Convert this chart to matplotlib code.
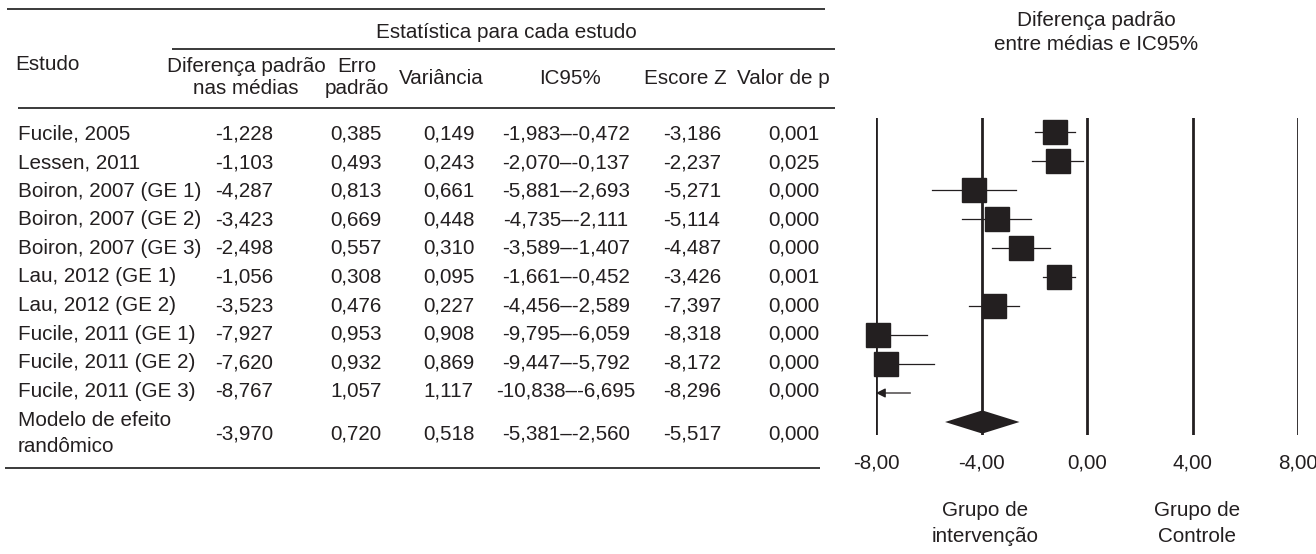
import matplotlib
matplotlib.use("Agg")
import matplotlib.pyplot as plt

plt.rcParams["font.family"] = ["Liberation Sans", "DejaVu Sans"]

INK = "#231f20"
FS = 14.9

# ---- data ----
STUDIES = [
    "Fucile, 2005", "Lessen, 2011", "Boiron, 2007 (GE 1)", "Boiron, 2007 (GE 2)",
    "Boiron, 2007 (GE 3)", "Lau, 2012 (GE 1)", "Lau, 2012 (GE 2)",
    "Fucile, 2011 (GE 1)", "Fucile, 2011 (GE 2)", "Fucile, 2011 (GE 3)",
]
SMD = [-1.228, -1.103, -4.287, -3.423, -2.498, -1.056, -3.523, -7.927, -7.620, -8.767]
SE = [0.385, 0.493, 0.813, 0.669, 0.557, 0.308, 0.476, 0.953, 0.932, 1.057]
VAR = [0.149, 0.243, 0.661, 0.448, 0.310, 0.095, 0.227, 0.908, 0.869, 1.117]
CI_LO = [-1.983, -2.070, -5.881, -4.735, -3.589, -1.661, -4.456, -9.795, -9.447, -10.838]
CI_HI = [-0.472, -0.137, -2.693, -2.111, -1.407, -0.452, -2.589, -6.059, -5.792, -6.695]
ZSCORE = [-3.186, -2.237, -5.271, -5.114, -4.487, -3.426, -7.397, -8.318, -8.172, -8.296]
PVAL = [0.001, 0.025, 0.000, 0.000, 0.000, 0.001, 0.000, 0.000, 0.000, 0.000]

SUMMARY_LABEL = ["Modelo de efeito", "randômico"]
SUMMARY = {"smd": -3.970, "se": 0.720, "var": 0.518, "lo": -5.381, "hi": -2.560,
           "z": -5.517, "p": 0.000}

XTICKS = [-8, -4, 0, 4, 8]
XMIN, XMAX = -8, 8


def fmt(v):
    return f"{v:.3f}".replace(".", ",")


fig = plt.figure(figsize=(13.16, 5.54), dpi=100)

# table layer in pixel coordinates
tab = fig.add_axes([0, 0, 1, 1])
tab.set_xlim(0, 1316)
tab.set_ylim(554, 0)
tab.axis("off")

for y, x0, x1 in [(9, 7, 825), (49, 172, 835), (108, 18, 835), (468, 5, 820)]:
    tab.plot([x0, x1], [y, y], color="#3a3a3a", lw=1.4, solid_capstyle="butt")

kw = dict(fontsize=FS, color=INK, va="center")
tab.text(506, 32, "Estatística para cada estudo", ha="center", **kw)
tab.text(15, 64, "Estudo", ha="left", **kw)
tab.text(246, 67, "Diferença padrão", ha="center", **kw)
tab.text(246, 88, "nas médias", ha="center", **kw)
tab.text(357, 67, "Erro", ha="center", **kw)
tab.text(357, 88, "padrão", ha="center", **kw)
tab.text(441, 79, "Variância", ha="center", **kw)
tab.text(570, 79, "IC95%", ha="center", **kw)
tab.text(685, 79, "Escore Z", ha="center", **kw)
tab.text(783, 79, "Valor de p", ha="center", **kw)

COLS = [215, 330, 423, 566, 663, 768]


def table_row(y, vals):
    smd, se, var, lo, hi, z, p = vals
    tab.text(COLS[0], y, fmt(smd), ha="left", **kw)
    tab.text(COLS[1], y, fmt(se), ha="left", **kw)
    tab.text(COLS[2], y, fmt(var), ha="left", **kw)
    tab.text(COLS[3], y, f"{fmt(lo)}\u2013{fmt(hi)}", ha="center", **kw)
    tab.text(COLS[4], y, fmt(z), ha="left", **kw)
    tab.text(COLS[5], y, fmt(p), ha="left", **kw)


for i, name in enumerate(STUDIES):
    y = 134 + 28.6 * i
    tab.text(18, y, name, ha="left", **kw)
    table_row(y, (SMD[i], SE[i], VAR[i], CI_LO[i], CI_HI[i], ZSCORE[i], PVAL[i]))

tab.text(18, 421, SUMMARY_LABEL[0], ha="left", **kw)
tab.text(18, 447, SUMMARY_LABEL[1], ha="left", **kw)
table_row(434, (SUMMARY["smd"], SUMMARY["se"], SUMMARY["var"], SUMMARY["lo"],
                SUMMARY["hi"], SUMMARY["z"], SUMMARY["p"]))

tab.text(1096, 20, "Diferença padrão", ha="center", **kw)
tab.text(1096, 44, "entre médias e IC95%", ha="center", **kw)
tab.text(985, 511, "Grupo de", ha="center", **kw)
tab.text(985, 536, "intervenção", ha="center", **kw)
tab.text(1197, 511, "Grupo de", ha="center", **kw)
tab.text(1197, 536, "Controle", ha="center", **kw)

# forest plot
ax = fig.add_axes([876 / 1316, (554 - 435) / 554, 422 / 1316, 317 / 554])
ax.set_xlim(XMIN, XMAX)
ax.set_ylim(10 + 13 / 29, -14 / 29)
for s in ax.spines.values():
    s.set_visible(False)
ax.set_yticks([])
ax.set_xticks(XTICKS)
ax.set_xticklabels([f"{t:.2f}".replace(".", ",") for t in XTICKS], fontsize=FS, color=INK)
ax.tick_params(axis="x", length=0, pad=13)
for t in XTICKS:
    ax.axvline(t, color=INK, lw=2, zorder=1)

for i in range(len(STUDIES)):
    lo = max(CI_LO[i], XMIN)
    hi = min(CI_HI[i], XMAX)
    if XMIN <= SMD[i] <= XMAX:
        ax.plot([lo, hi], [i, i], color=INK, lw=0.9, zorder=2, clip_on=False)
        ax.plot(SMD[i], i, marker="s", ms=17.3, color=INK, mec=INK, zorder=3,
                clip_on=False)
    else:
        ax.annotate("", xy=(XMIN, i), xytext=(hi, i),
                    arrowprops=dict(arrowstyle="-|>", color=INK, lw=0.9,
                                    mutation_scale=14, shrinkA=0, shrinkB=0))

ys = len(STUDIES)
h = 0.4
ax.fill([SUMMARY["lo"], SUMMARY["smd"], SUMMARY["hi"], SUMMARY["smd"]],
        [ys, ys - h, ys, ys + h], color=INK, lw=0, zorder=3, clip_on=False)

fig.savefig("out.png", dpi=100)
